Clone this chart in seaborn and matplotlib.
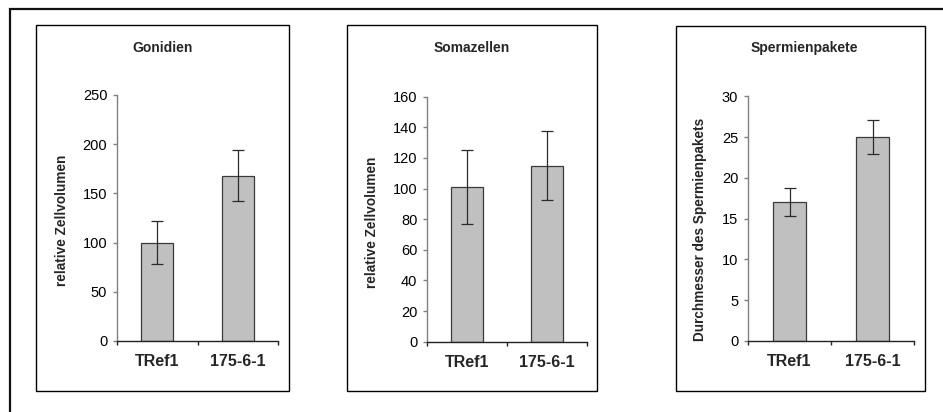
import matplotlib
matplotlib.use("Agg")
import matplotlib.pyplot as plt
from matplotlib.patches import Rectangle
import seaborn as sns
import pandas as pd
import numpy as np

# --- data -------------------------------------------------------------
groups = ["TRef1", "175-6-1"]

gonidien_mean = [100, 168]
gonidien_err = [22, 26]

soma_mean = [101, 115]
soma_err = [24, 22.5]

sperm_mean = [17.0, 25.0]
sperm_err = [1.7, 2.1]

titles = ["Gonidien", "Somazellen", "Spermienpakete"]
ylabels = ["relative Zellvolumen", "relative Zellvolumen",
           "Durchmesser des Spermienpakets"]
yticks = [list(range(0, 251, 50)), list(range(0, 161, 20)), list(range(0, 31, 5))]

# --- figure -----------------------------------------------------------
sns.set_theme(style="white")
plt.rcParams["font.family"] = ["Liberation Sans", "DejaVu Sans"]

W, H = 943, 412
fig = plt.figure(figsize=(W / 100, H / 100), dpi=100)
fig.patch.set_facecolor("white")


def fx(px):
    return px / W


def fy(py):
    return 1 - py / H


# panel layout in pixels: frame box, axes box (left, right, top, bottom),
# title centre x, y-label position
panels = [
    dict(frame=(36, 25, 289, 391), ax=(117, 278, 95, 341), title_x=163,
         ylab_x=69, ylab_y=220.7),
    dict(frame=(347, 25, 597, 391), ax=(427, 587, 96.7, 341.7), title_x=472,
         ylab_x=379, ylab_y=222),
    dict(frame=(676, 26, 925, 391), ax=(748, 914, 96.3, 341), title_x=804,
         ylab_x=707, ylab_y=229),
]

means = [gonidien_mean, soma_mean, sperm_mean]
errs = [gonidien_err, soma_err, sperm_err]

# outer border
fig.add_artist(Rectangle((fx(10), fy(960)), fx(960) - fx(10), fy(9) - fy(960),
                         transform=fig.transFigure, fill=False,
                         edgecolor="#111111", linewidth=1.6))

for i, p in enumerate(panels):
    x0, y0, x1, y1 = p["frame"]
    fig.add_artist(Rectangle((fx(x0), fy(y1)), fx(x1) - fx(x0), fy(y0) - fy(y1),
                             transform=fig.transFigure, fill=False,
                             edgecolor="black", linewidth=1.0))

    L, R, T, B = p["ax"]
    ax = fig.add_axes([fx(L), fy(B), fx(R) - fx(L), fy(T) - fy(B)])
    df = pd.DataFrame({"group": groups, "value": means[i], "err": errs[i]})
    sns.barplot(data=df, x="group", y="value", ax=ax, color="#c0c0c0",
                saturation=1, width=0.4, edgecolor="#3a3a3a", linewidth=0.9,
                errorbar=None)
    ax.errorbar(np.arange(len(groups)), df["value"], yerr=df["err"], fmt="none",
                ecolor="#2a2a2a", elinewidth=0.9, capsize=4, capthick=0.9)

    ax.set_xlim(-0.5, len(groups) - 0.5)
    ax.set_ylim(yticks[i][0], yticks[i][-1])
    ax.set_yticks(yticks[i])
    ax.set_facecolor("none")

    for s in ("top", "right"):
        ax.spines[s].set_visible(False)
    ax.spines["left"].set_color("#808080")
    ax.spines["left"].set_linewidth(1.0)
    ax.spines["bottom"].set_color("#222222")
    ax.spines["bottom"].set_linewidth(1.0)

    ax.tick_params(axis="y", which="major", direction="out", length=3,
                   width=1.0, color="#808080", labelsize=10.5, pad=4,
                   labelcolor="black", left=True)
    ax.set_xticks(np.arange(-0.5, len(groups), 1.0), minor=True)
    ax.tick_params(axis="x", which="minor", direction="out", length=3,
                   width=1.0, color="#222222", bottom=True)
    ax.tick_params(axis="x", which="major", length=0, pad=9.5, labelsize=11.5)
    for lab in ax.get_xticklabels():
        lab.set_fontweight("bold")

    ax.set_xlabel("")
    ax.set_ylabel(ylabels[i], fontsize=9.8, fontweight="bold")
    ax.yaxis.set_label_coords((p["ylab_x"] - L) / (R - L),
                              (B - p["ylab_y"]) / (B - T))

    ax.set_title(titles[i], fontsize=10, fontweight="bold", pad=0,
                 x=(p["title_x"] - L) / (R - L), y=(B - 47.7) / (B - T),
                 va="center", ha="center")

fig.savefig("out.png", dpi=100, facecolor="white")
